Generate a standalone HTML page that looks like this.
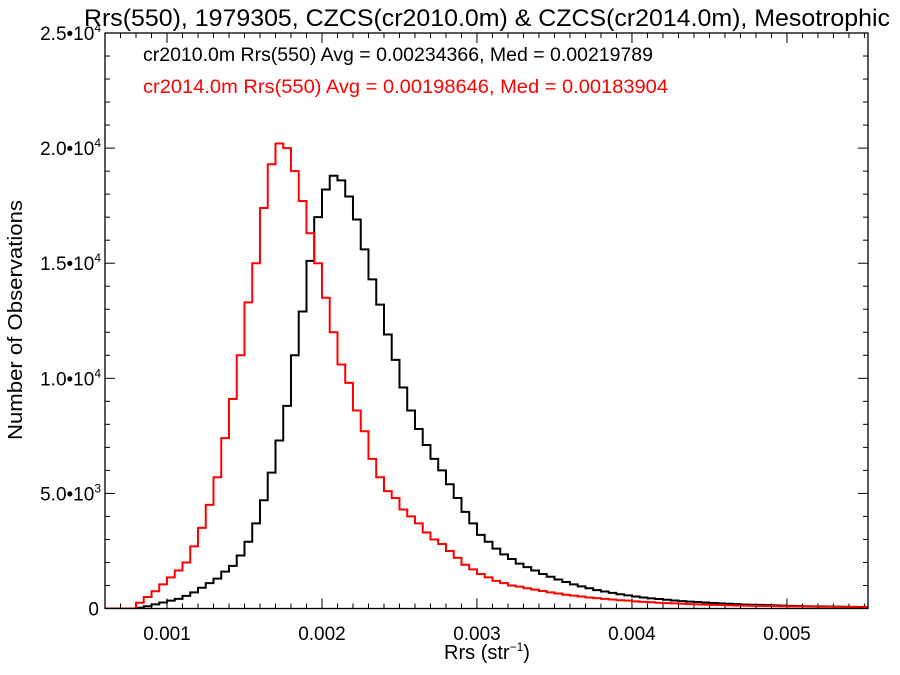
<!DOCTYPE html>
<html><head><meta charset="utf-8"><style>
html,body{margin:0;padding:0;background:#fff;}
svg{display:block;font-family:"Liberation Sans",Arial,sans-serif;}
</style></head><body>
<svg id="chart" width="900" height="675" viewBox="0 0 900 675" xmlns="http://www.w3.org/2000/svg">
<text x="487" y="26" font-size="24" text-anchor="middle" textLength="806" lengthAdjust="spacingAndGlyphs">Rrs(550), 1979305, CZCS(cr2010.0m) &amp; CZCS(cr2014.0m), Mesotrophic</text>
<text x="143" y="61" font-size="19" fill="#000" textLength="510" lengthAdjust="spacingAndGlyphs">cr2010.0m Rrs(550) Avg = 0.00234366, Med = 0.00219789</text>
<text x="143" y="93" font-size="19" fill="#ff0000" textLength="525" lengthAdjust="spacingAndGlyphs">cr2014.0m Rrs(550) Avg = 0.00198646, Med = 0.00183904</text>
<text x="487" y="659" font-size="20" text-anchor="middle">Rrs (str<tspan dy="-8" font-size="12">−1</tspan><tspan dy="8">)</tspan></text>
<text transform="translate(22,320) rotate(-90)" font-size="20" text-anchor="middle" textLength="240" lengthAdjust="spacingAndGlyphs">Number of Observations</text>
<defs><clipPath id="pc"><rect x="105" y="33" width="763" height="576"/></clipPath></defs>
<g id="ticks"></g>
<g id="series" clip-path="url(#pc)"></g>
<rect x="105" y="33" width="763" height="575.5" fill="none" stroke="#000" stroke-width="1.3"/>
</svg>
<script>
const binStart = 0.0006;
const binWidth = 0.00005;
const xTickLabels = ["0.001","0.002","0.003","0.004","0.005"];
const xTickValues = [0.001,0.002,0.003,0.004,0.005];
const yTickValues = [0,5000,10000,15000,20000,25000];
const yTickLabels = ["0","5.0•10","1.0•10","1.5•10","2.0•10","2.5•10"];
const countsCr2014 = [0,0,0,0,250,500,750,1050,1350,1650,2000,2700,3500,4500,5700,7400,9100,11000,13300,15000,17400,19300,20200,20000,19000,17700,16300,15000,13500,12000,10600,9800,8600,7700,6500,5700,5100,4800,4300,4000,3700,3300,3000,2800,2500,2200,1900,1700,1500,1350,1200,1100,1000,950,880,820,760,700,650,600,560,520,480,450,420,390,360,340,310,290,270,250,235,220,205,190,180,170,160,150,140,130,125,120,115,110,105,100,95,90,85,80,78,76,74,72,70,68,66];
const countsCr2010 = [0,0,0,0,30,100,180,260,340,420,550,700,900,1100,1300,1600,1850,2300,2900,3700,4700,5900,7300,8800,11000,12900,15100,17000,18200,18800,18600,17900,16900,15600,14300,13200,11900,10800,9600,8600,7800,7100,6500,6000,5400,4800,4200,3700,3200,2900,2600,2350,2150,1950,1800,1650,1500,1380,1260,1150,1050,960,880,800,740,680,620,570,520,480,440,410,380,350,320,300,280,260,240,220,205,190,175,165,155,145,135,125,115,108,100,95,90,85,80,75,70,65,60];
const X0=105,X1=868,Y0=608.5,Y1=33,XMIN=0.0006,XMAX=0.005523,YMAX=25000;
function xs(v){return X0+(v-XMIN)/(XMAX-XMIN)*(X1-X0);}
function ys(c){return Y0-c/YMAX*(Y0-Y1);}
const NS="http://www.w3.org/2000/svg";
const tg=document.getElementById('ticks');
function line(x1,y1,x2,y2,name){const l=document.createElementNS(NS,'line');
l.setAttribute('x1',x1);l.setAttribute('y1',y1);l.setAttribute('x2',x2);l.setAttribute('y2',y2);
l.setAttribute('stroke','#000');l.setAttribute('stroke-width','1');


tg.appendChild(l);}
for(let i=6;i<=55;i++){const v=i*0.0001;const x=xs(v);const major=i%10===0;const L=major?10:5;
line(x,Y0,x,Y0-L,'x-tick');line(x,Y1,x,Y1+L,'x-tick-top');}
for(let k=0;k<=25;k++){const y=ys(k*1000);const major=k%5===0;const L=major?10:5;
line(X0,y,X0+L,y,'y-tick');line(X1,y,X1-L,y,'y-tick-right');}
xTickValues.forEach((v,i)=>{const t=document.createElementNS(NS,'text');
t.setAttribute('x',xs(v));t.setAttribute('y',640);t.setAttribute('font-size','19');t.setAttribute('text-anchor','middle');
t.textContent=xTickLabels[i];


tg.appendChild(t);});
yTickValues.forEach((v,i)=>{const t=document.createElementNS(NS,'text');
t.setAttribute('y',ys(v)+7);t.setAttribute('font-size','19');t.setAttribute('text-anchor','end');
if(v===0){t.setAttribute('x',99);t.textContent='0';}
else{t.setAttribute('x',101);t.textContent=yTickLabels[i];const s=document.createElementNS(NS,'tspan');
s.setAttribute('dy','-8');s.setAttribute('font-size','12');s.textContent=(v===5000?'3':'4');t.appendChild(s);}


tg.appendChild(t);});
const sg=document.getElementById('series');
function drawHist(counts,color,name){let d='M'+xs(binStart)+','+ys(counts[0]);
counts.forEach((c,i)=>{const a=xs(binStart+i*binWidth),b=xs(binStart+(i+1)*binWidth);d+=' L'+a+','+ys(c)+' L'+b+','+ys(c);});
const p=document.createElementNS(NS,'path');p.setAttribute('d',d);p.setAttribute('fill','none');
p.setAttribute('stroke',color);p.setAttribute('stroke-width','2');


sg.appendChild(p);}
drawHist(countsCr2010,'#000','series-cr2010');
drawHist(countsCr2014,'#ff0000','series-cr2014');
</script>
</body></html>
